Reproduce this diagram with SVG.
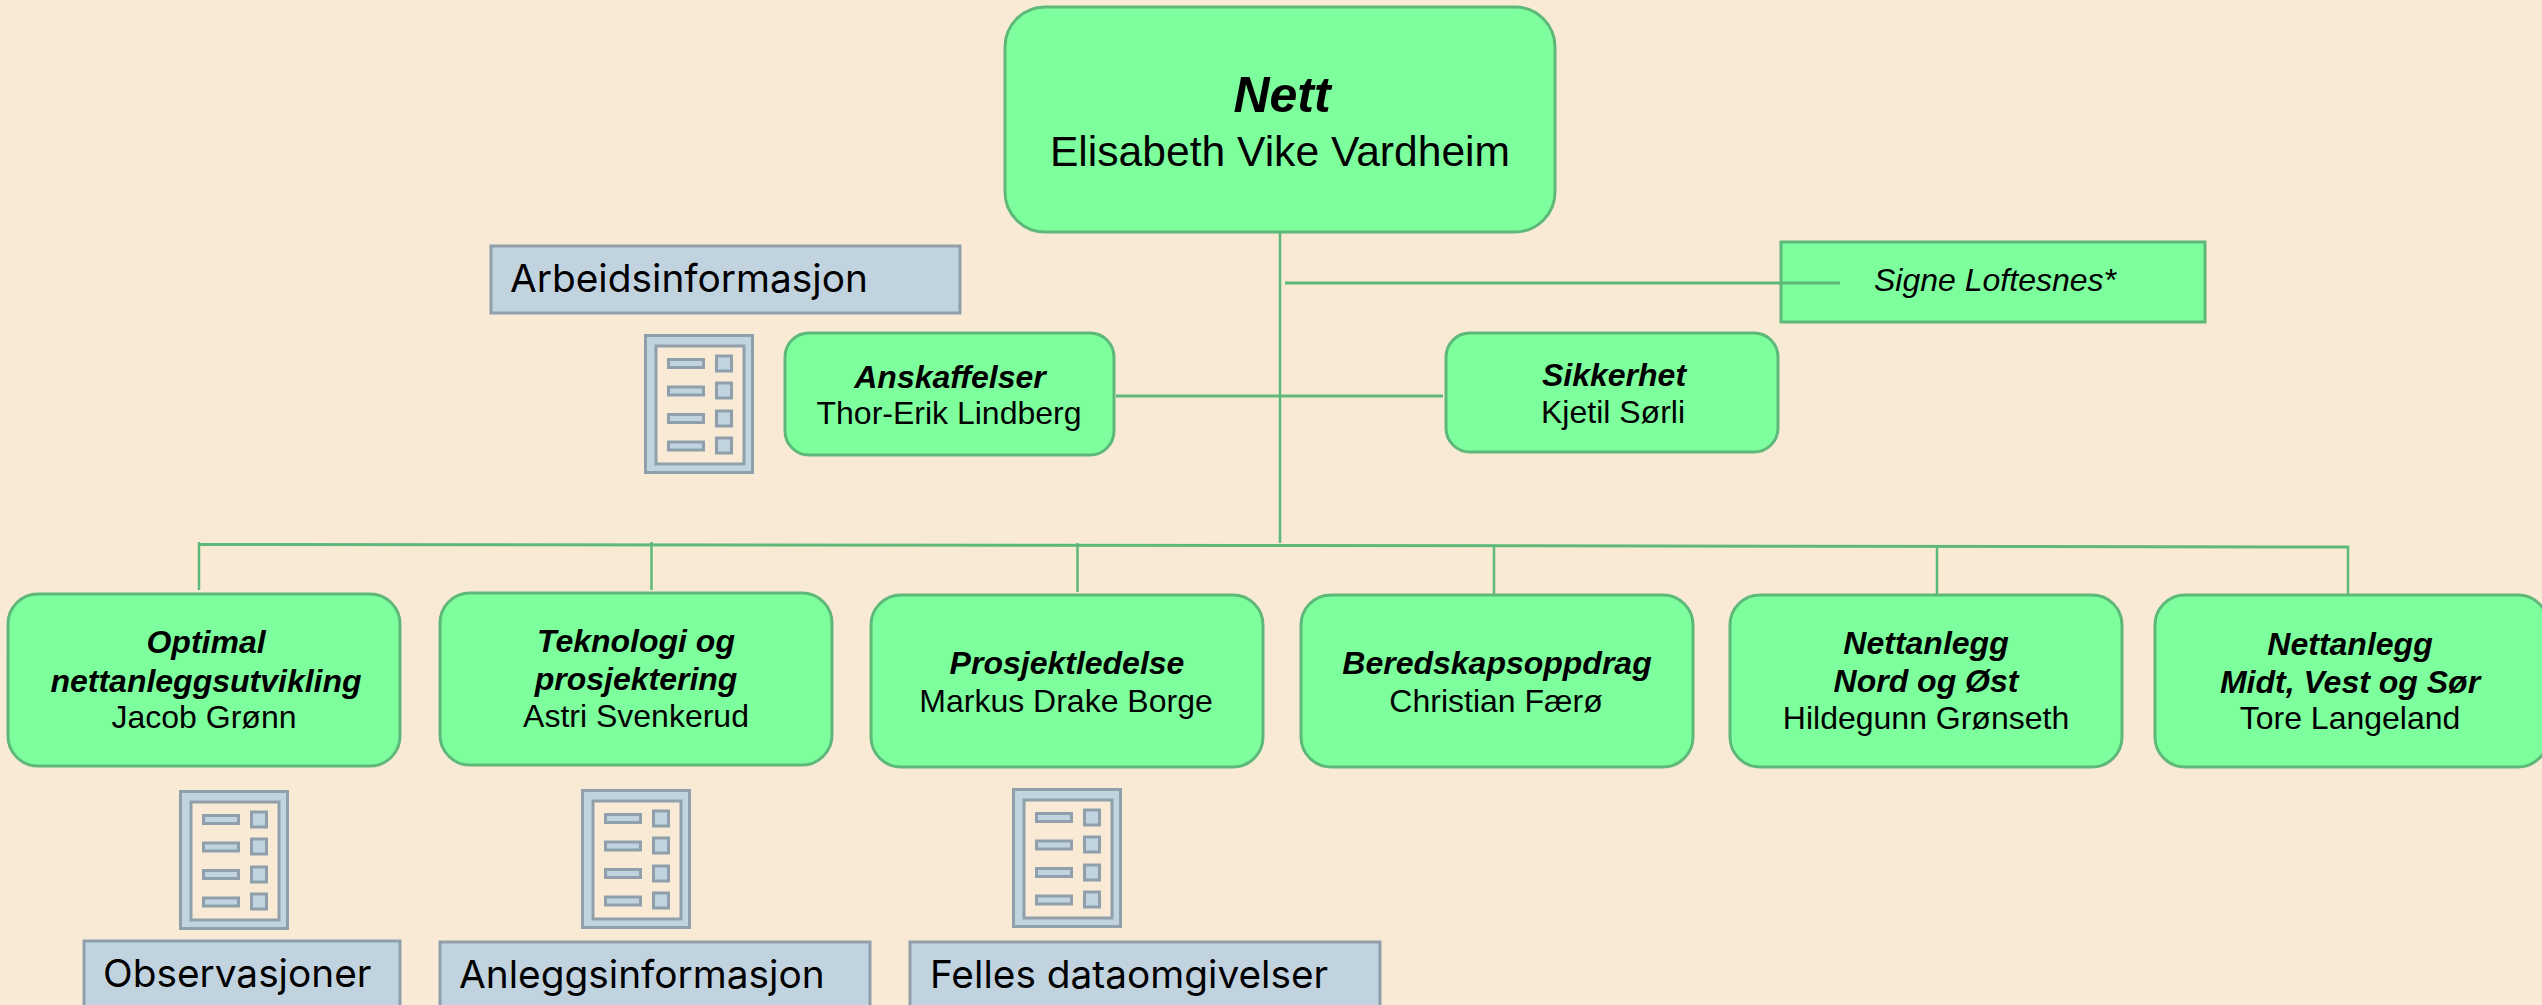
<svg xmlns="http://www.w3.org/2000/svg" width="2542" height="1005" viewBox="0 0 2542 1005">
<defs>
<style>
.n{fill:#7dff9d;stroke:#5eb87a;stroke-width:3}
.c{fill:none;stroke:#5eb87a;stroke-width:3}
.v{fill:none;stroke:#5eb87a;stroke-width:2.500}
.b{fill:#c2d3e0;stroke:#8f9fac;stroke-width:3}
.p{fill:#f9ead5;stroke:#8f9fac;stroke-width:3}
text{font-family:"Liberation Sans",Arial,sans-serif;font-size:32px;text-anchor:middle;fill:#000}
.t{font-weight:bold;font-style:italic}
.l{font-family:Inter,"Liberation Sans",sans-serif;font-size:38.800px;text-anchor:start}
</style>
<symbol id="doc" width="110" height="140" viewBox="0 0 110 140" overflow="visible">
<rect class="b" x="1.500" y="1.500" width="107" height="137"/>
<rect class="p" x="12" y="12" width="88" height="118"/>
<g class="b">
<rect x="24.500" y="25.500" width="35" height="8"/><rect x="72.500" y="22" width="15" height="15"/>
<rect x="24.500" y="53" width="35" height="8"/><rect x="72.500" y="49" width="15" height="15"/>
<rect x="24.500" y="80.500" width="35" height="8"/><rect x="72.500" y="77" width="15" height="15"/>
<rect x="24.500" y="108" width="35" height="8"/><rect x="72.500" y="104" width="15" height="15"/>
</g>
</symbol>
</defs>
<rect width="2542" height="1005" fill="#f9ead5"/>
<g id="connectors">
<path class="v" d="M1280 232V543"/>
<path class="c" d="M1285 283H1840M1116 396H1443"/>
<path class="c" d="M199 544.500L1280 545.500L2349 547"/>
<path class="v" d="M199 542V590M651.500 542V590M1077.500 543V592M1494 546V594M1937 547V594M2348 546V594"/>
</g>
<g id="node-nett"><rect class="n" x="1005" y="7" width="550" height="225" rx="40"/>
<text class="t" x="1282" y="112" style="font-size:50px">Nett</text><text x="1280" y="166" style="font-size:42.600px">Elisabeth Vike Vardheim</text></g>
<g id="node-signe"><rect class="n" x="1781" y="242" width="424" height="80"/>
<text x="1995" y="291" font-style="italic">Signe Loftesnes*</text></g>
<path class="c" d="M1781 283H1840"/>
<g id="node-anskaffelser"><rect class="n" x="785" y="333" width="329" height="122" rx="24"/>
<text class="t" x="950" y="388">Anskaffelser</text><text x="949" y="424">Thor-Erik Lindberg</text></g>
<g id="node-sikkerhet"><rect class="n" x="1446" y="333" width="332" height="119" rx="24"/>
<text class="t" x="1614" y="386">Sikkerhet</text><text x="1613" y="423">Kjetil Sørli</text></g>
<g id="node-optimal"><rect class="n" x="8" y="594" width="392" height="172" rx="30"/>
<text class="t" x="206" y="653">Optimal</text><text class="t" x="206" y="692">nettanleggsutvikling</text><text x="204" y="728">Jacob Grønn</text></g>
<g id="node-teknologi"><rect class="n" x="440" y="593" width="392" height="172" rx="30"/>
<text class="t" x="636" y="652">Teknologi og</text><text class="t" x="636" y="690">prosjektering</text><text x="636" y="727">Astri Svenkerud</text></g>
<g id="node-prosjektledelse"><rect class="n" x="871" y="595" width="392" height="172" rx="30"/>
<text class="t" x="1067" y="674">Prosjektledelse</text><text x="1066" y="712">Markus Drake Borge</text></g>
<g id="node-beredskap"><rect class="n" x="1301" y="595" width="392" height="172" rx="30"/>
<text class="t" x="1497" y="674">Beredskapsoppdrag</text><text x="1496" y="712">Christian Færø</text></g>
<g id="node-nord"><rect class="n" x="1730" y="595" width="392" height="172" rx="30"/>
<text class="t" x="1926" y="654">Nettanlegg</text><text class="t" x="1926" y="692">Nord og Øst</text><text x="1926" y="729">Hildegunn Grønseth</text></g>
<g id="node-midt"><rect class="n" x="2155" y="595" width="393" height="172" rx="30"/>
<text class="t" x="2350" y="655">Nettanlegg</text><text class="t" x="2350" y="693">Midt, Vest og Sør</text><text x="2350" y="729">Tore Langeland</text></g>
<g id="info-arbeid"><rect class="b" x="491" y="246" width="469" height="67"/><text class="l" x="510" y="292">Arbeidsinformasjon</text><use href="#doc" x="644" y="334"/></g>
<g id="info-observasjoner"><use href="#doc" x="179" y="790"/><rect class="b" x="84" y="941" width="316" height="70"/><text class="l" x="103" y="987">Observasjoner</text></g>
<g id="info-anlegg"><use href="#doc" x="581" y="789"/><rect class="b" x="440" y="942" width="430" height="70"/><text class="l" x="459" y="988">Anleggsinformasjon</text></g>
<g id="info-felles"><use href="#doc" x="1012" y="788"/><rect class="b" x="910" y="942" width="470" height="70"/><text class="l" x="930" y="988">Felles dataomgivelser</text></g>
</svg>
